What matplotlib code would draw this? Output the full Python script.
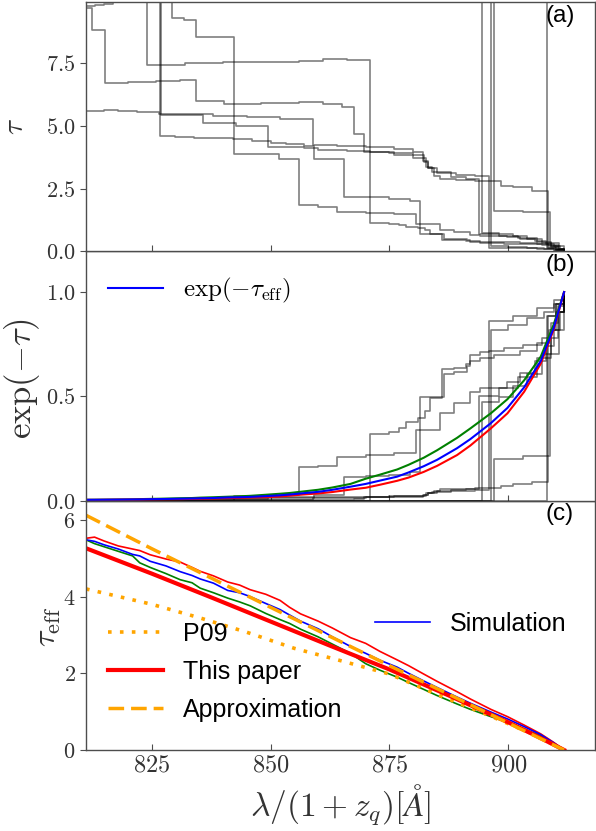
import matplotlib
matplotlib.use("Agg")
import matplotlib.pyplot as plt
import numpy as np
from matplotlib.ticker import FixedLocator, FuncFormatter

plt.rcParams["mathtext.fontset"] = "cm"
plt.rcParams["font.family"] = ["Liberation Sans", "DejaVu Sans"]

# ---- individual sightlines: tau(lambda) as steps (start wavelength, level) ----
lam_A = [811.2, 813.0, 815.0, 816.8, 818.5, 896.3, 900.0, 904.0, 907.5, 909.5, 911.7]
tau_A = [9.76, 9.80, 9.86, 9.93, 12.0, 0.20, 0.17, 0.13, 0.10, 0.06, 0.0]

lam_B = [811.2, 812.4, 815.1, 820.0, 826.0, 831.0, 834.4, 840.3, 848.0, 856.0, 861.0,
         865.0, 867.5, 869.6, 875.0, 880.0, 882.2, 883.0, 885.0, 889.0, 893.0, 895.9,
         901.0, 906.0, 909.5, 911.7]
tau_B = [9.70, 8.80, 6.70, 6.74, 6.78, 6.82, 5.97, 5.88, 5.92, 5.94, 5.85,
         5.75, 4.68, 3.95, 3.90, 3.85, 3.55, 3.30, 3.10, 3.05, 3.00, 0.15,
         0.12, 0.08, 0.04, 0.0]

lam_C = [811.2, 824.0, 832.0, 840.0, 848.0, 856.0, 861.0, 866.0, 871.0, 875.0, 877.0,
         878.5, 881.0, 882.5, 883.5, 886.0, 888.5, 891.0, 892.0, 894.0, 896.0, 899.0,
         903.0, 907.0, 909.0, 910.5, 911.7]
tau_C = [12.0, 7.42, 7.48, 7.52, 7.55, 7.58, 7.67, 7.60, 1.14, 1.11, 1.05,
         0.97, 0.92, 0.84, 0.71, 0.46, 0.45, 0.42, 0.36, 0.34, 0.33, 0.31,
         0.29, 0.25, 0.16, 0.07, 0.0]

lam_D = [811.2, 826.8, 830.0, 834.0, 838.0, 842.0, 846.0, 850.0, 853.3, 857.0, 859.1,
         862.0, 865.4, 870.0, 875.0, 879.4, 881.5, 886.4, 888.5, 891.3, 892.0, 894.0,
         897.0, 902.5, 906.0, 908.5, 910.0, 911.7]
tau_D = [12.0, 4.60, 4.57, 4.53, 4.50, 4.47, 4.40, 4.32, 4.26, 4.20, 3.68,
         3.66, 2.18, 2.15, 2.10, 2.00, 0.70, 0.50, 0.48, 0.44, 0.40, 0.38,
         0.36, 0.33, 0.28, 0.20, 0.10, 0.0]

lam_E = [811.2, 815.0, 818.0, 822.0, 826.5, 832.0, 838.0, 845.0, 852.0, 857.0, 859.0,
         864.0, 870.0, 876.0, 880.0, 882.0, 883.0, 884.3, 885.7, 889.0, 893.0, 898.5,
         901.0, 905.0, 908.4, 910.0, 911.7]
tau_E = [5.58, 5.62, 5.60, 5.55, 5.48, 5.45, 5.40, 5.33, 5.28, 5.26, 4.25,
         4.20, 4.15, 4.08, 3.95, 3.60, 3.30, 3.02, 2.89, 2.85, 2.82, 2.62,
         2.55, 2.42, 0.12, 0.06, 0.0]

lam_F = [811.2, 829.2, 831.7, 834.4, 842.4, 851.7, 855.9, 860.0, 864.0, 870.0, 876.0,
         880.5, 885.7, 888.5, 892.0, 894.0, 899.7, 902.5, 905.5, 908.0, 909.5, 910.8, 911.7]
tau_F = [12.0, 9.27, 9.20, 8.54, 3.86, 3.68, 1.83, 1.78, 1.57, 1.52, 1.47,
         1.08, 0.87, 0.76, 0.65, 0.62, 0.56, 0.49, 0.40, 0.30, 0.20, 0.10, 0.0]

lam_H = [811.2, 826.9, 835.8, 842.8, 849.4, 857.0, 860.0, 866.0, 871.0, 876.0, 880.0,
         882.6, 884.0, 888.0, 891.0, 893.8, 898.0, 902.0, 906.0, 909.0, 911.7]
tau_H = [12.0, 5.42, 5.12, 5.00, 4.15, 4.10, 4.05, 4.00, 3.95, 3.85, 3.70,
         3.35, 3.15, 2.95, 2.90, 0.69, 0.62, 0.52, 0.38, 0.20, 0.0]

lam_I = [811.2, 894.5, 898.0, 901.0, 904.0, 907.0, 909.0, 910.5, 911.7]
tau_I = [12.0, 0.75, 0.70, 0.60, 0.50, 0.35, 0.25, 0.10, 0.0]

lam_J = [811.2, 897.0, 903.0, 908.8, 910.6, 911.7]
tau_J = [12.0, 1.60, 1.55, 0.35, 0.10, 0.0]

lam_K = [811.2, 908.2, 910.0, 911.7]
tau_K = [12.0, 0.12, 0.06, 0.0]

sightlines = [(lam_A, tau_A), (lam_B, tau_B), (lam_C, tau_C), (lam_D, tau_D),
              (lam_E, tau_E), (lam_F, tau_F), (lam_H, tau_H), (lam_I, tau_I),
              (lam_J, tau_J), (lam_K, tau_K)]

# ---- effective optical depth curves ----
lam_sim = [811.2, 813.0, 815.0, 818.0, 821.0, 822.5, 824.7, 828.0, 831.0, 833.5, 835.2,
           838.0, 841.0, 843.5, 845.7, 849.0, 852.0, 854.0, 856.3, 860.0, 863.0, 866.8,
           870.0, 873.0, 876.6, 879.0, 882.2, 885.0, 889.2, 892.0, 896.3, 899.8, 903.3,
           906.8, 909.5, 911.7]
tau_sim = [5.48, 5.44, 5.35, 5.24, 5.10, 5.06, 4.92, 4.80, 4.65, 4.55, 4.46,
           4.35, 4.16, 4.10, 4.00, 3.82, 3.66, 3.52, 3.36, 3.16, 2.95, 2.70,
           2.52, 2.34, 2.16, 2.00, 1.80, 1.63, 1.38, 1.22, 0.99, 0.81, 0.61,
           0.40, 0.19, 0.0]
tau_hi = [5.52, 5.55, 5.45, 5.32, 5.24, 5.20, 5.09, 4.98, 4.90, 4.76, 4.66,
          4.54, 4.38, 4.30, 4.18, 4.06, 3.90, 3.72, 3.55, 3.36, 3.18, 2.93,
          2.78, 2.57, 2.35, 2.20, 1.98, 1.79, 1.52, 1.33, 1.06, 0.87, 0.65,
          0.42, 0.20, 0.0]
tau_lo = [5.48, 5.38, 5.30, 5.18, 5.06, 4.88, 4.76, 4.60, 4.44, 4.36, 4.22,
          4.10, 3.96, 3.86, 3.76, 3.56, 3.40, 3.30, 3.15, 2.95, 2.76, 2.52,
          2.25, 2.08, 1.90, 1.76, 1.58, 1.42, 1.20, 1.06, 0.87, 0.72, 0.55,
          0.37, 0.17, 0.0]

lam_paper = [811.2, 825.0, 837.5, 850.0, 862.5, 875.0, 887.5, 900.0, 906.0, 911.7]
tau_paper = [5.26, 4.60, 3.98, 3.35, 2.72, 2.10, 1.42, 0.72, 0.36, 0.0]

lam_approx = [811.2, 825.0, 850.0, 875.0, 900.0, 911.7]
tau_approx = [6.12, 5.25, 3.72, 2.20, 0.70, 0.0]

lam_p09 = [811.2, 825.0, 835.0, 845.0, 855.0, 865.0, 875.0, 885.0, 895.0, 905.0, 911.7]
tau_p09 = [4.20, 3.80, 3.45, 3.07, 2.65, 2.32, 1.98, 1.45, 0.95, 0.42, 0.0]

xticks = [825, 850, 875, 900]
yticks_a = [0.0, 2.5, 5.0, 7.5]
yticks_b = [0.0, 0.5, 1.0]
yticks_c = [0, 2, 4, 6]

gray = "0.3"
fig = plt.figure(figsize=(5.96, 8.31), dpi=100)
left, width, h = 86 / 596, 509 / 596, 0.3
bot_c = 81 / 831
ax_c = fig.add_axes([left, bot_c, width, h])
ax_b = fig.add_axes([left, bot_c + h, width, h], sharex=ax_c)
ax_a = fig.add_axes([left, bot_c + 2 * h, width, h], sharex=ax_c)

# (a) tau of sightlines
for lam, tau in sightlines:
    ax_a.step(lam, tau, where="post", color="k", alpha=0.5, lw=1.2)

# (b) transmission
for lam, tau in sightlines:
    ax_b.step(lam, np.exp(-np.array(tau)), where="post", color="k", alpha=0.5, lw=1.2)
ax_b.plot(lam_sim, np.exp(-np.array(tau_lo)), color="green", lw=1.5)
ax_b.plot(lam_sim, np.exp(-np.array(tau_hi)), color="red", lw=1.5)
ax_b.plot(lam_sim, np.exp(-np.array(tau_sim)), color="blue", lw=1.5,
          label=r"$\exp(-\tau_{\rm eff})$")

# (c) effective optical depth
ax_c.plot(lam_sim, tau_lo, color="green", lw=1.2)
ax_c.plot(lam_sim, tau_hi, color="red", lw=1.2)
sim_line, = ax_c.plot(lam_sim, tau_sim, color="blue", lw=1.2, label="Simulation")
p09_line, = ax_c.plot(lam_p09, tau_p09, color="orange", lw=2.6, ls=(0, (1, 2.3)), label="P09")
pap_line, = ax_c.plot(lam_paper, tau_paper, color="red", lw=3, label="This paper")
app_line, = ax_c.plot(lam_approx, tau_approx, color="orange", lw=2.5, ls=(0, (4.5, 2.0)),
                      label="Approximation")

leg_kw = dict(frameon=False, fontsize=18, handlelength=2.2, handletextpad=0.8,
              borderpad=0, borderaxespad=0)
leg1 = ax_c.legend(handles=[p09_line, pap_line, app_line], loc="upper left",
                   bbox_to_anchor=(0.043, 0.515), labelspacing=0.57, **leg_kw)
ax_c.add_artist(leg1)
ax_c.legend(handles=[sim_line], loc="upper left", bbox_to_anchor=(0.568, 0.555), **leg_kw)

ax_b.legend(loc="upper left", bbox_to_anchor=(0.043, 0.9), **leg_kw)

# axes styling
ax_c.set_xlim(811.2, 918.2)
ax_a.set_ylim(0, 9.92)
ax_b.set_ylim(0, 1.195)
ax_c.set_ylim(0, 6.5)

for ax, ticks, fmt in [(ax_a, yticks_a, "${:.1f}$"), (ax_b, yticks_b, "${:.1f}$"),
                       (ax_c, yticks_c, "${:.0f}$")]:
    ax.yaxis.set_major_locator(FixedLocator(ticks))
    ax.yaxis.set_major_formatter(FuncFormatter(lambda v, p, f=fmt: f.format(v)))
    ax.xaxis.set_major_locator(FixedLocator(xticks))
    ax.xaxis.set_major_formatter(FuncFormatter(lambda v, p: "${:.0f}$".format(v)))
    ax.tick_params(axis="x", direction="in", length=4, color=gray, labelsize=17.5,
                   labelcolor="0.2")
    ax.tick_params(axis="y", direction="out", length=4, color=gray, labelsize=16,
                   labelcolor="0.2")
    for s in ax.spines.values():
        s.set_color(gray)
        s.set_linewidth(1.0)

ax_a.tick_params(axis="x", labelbottom=False)
ax_b.tick_params(axis="x", labelbottom=False)

ax_a.set_ylabel(r"$\tau$", fontsize=21, color="0.2")
ax_b.set_ylabel(r"$\exp(-\tau)$", fontsize=25, color="0.2")
ax_c.set_ylabel(r"$\tau_{\rm eff}$", fontsize=23, color="0.2")
ax_a.yaxis.set_label_coords(-0.112, 0.5)
ax_b.yaxis.set_label_coords(-0.086, 0.49)
ax_c.yaxis.set_label_coords(-0.045, 0.496)
ax_c.set_xlabel(r"$\lambda/(1+z_q)[\AA]$", fontsize=24, color="0.2", labelpad=4)

for ax, lab in [(ax_a, "(a)"), (ax_b, "(b)"), (ax_c, "(c)")]:
    ax.text(0.903, 0.99, lab, transform=ax.transAxes, ha="left", va="top", fontsize=17.5)

fig.savefig("out.png", dpi=100)
